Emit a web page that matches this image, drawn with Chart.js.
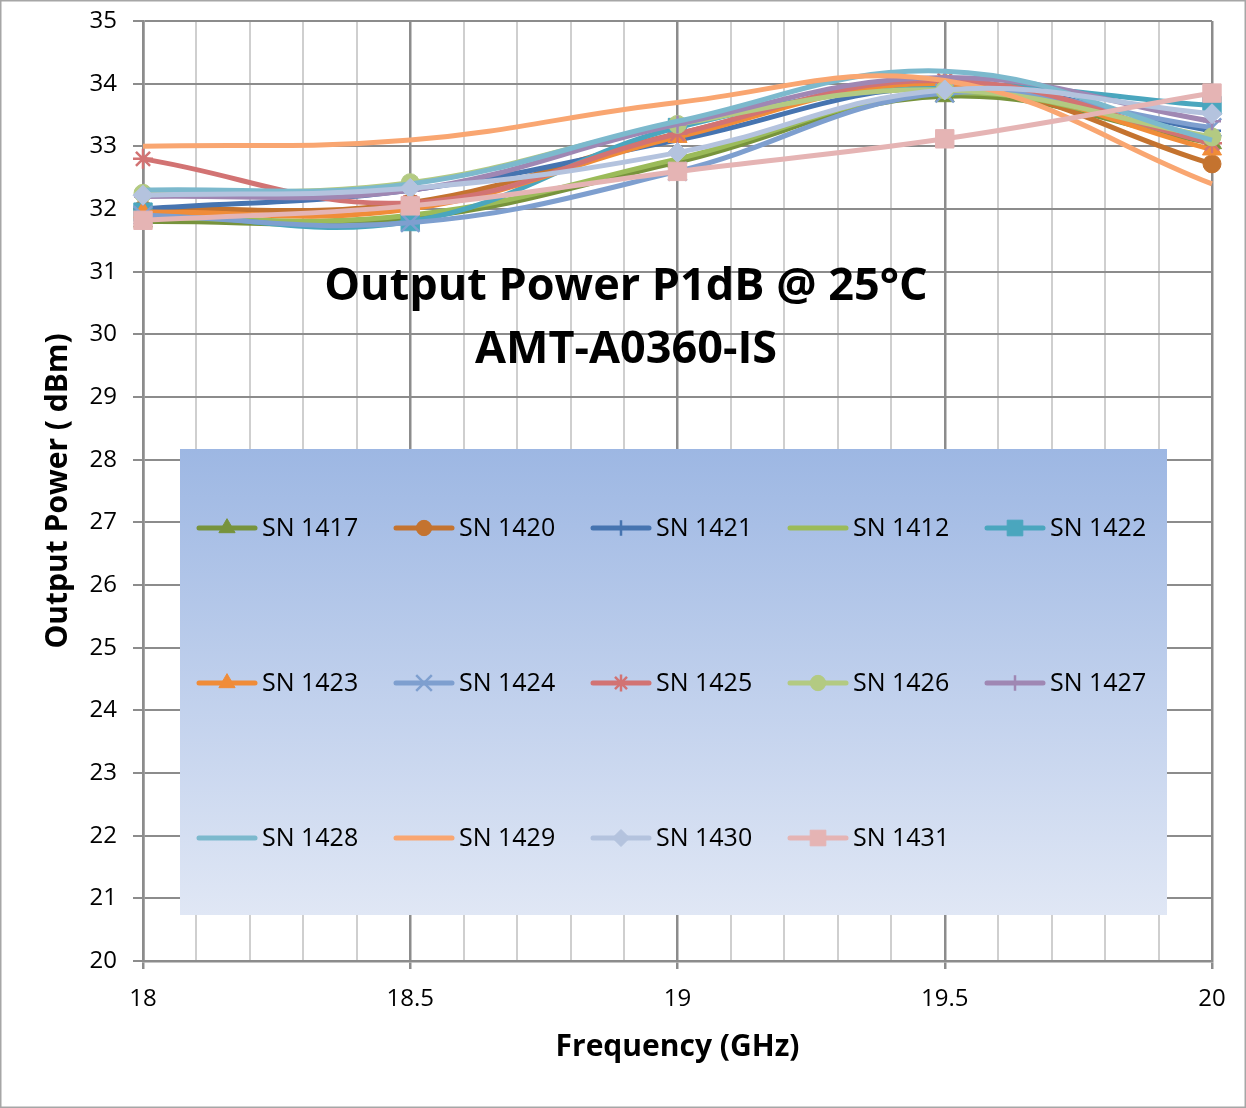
<!DOCTYPE html>
<html>
<head>
<meta charset="utf-8">
<script src="https://cdn.jsdelivr.net/npm/chart.js@4.4.1/dist/chart.umd.min.js"></script>
<style>
  html, body { margin: 0; padding: 0; background: #fff; }
  #wrap { width: 1246px; height: 1108px; position: relative; }
</style>
</head>
<body>
<div id="wrap"><canvas id="c" width="1246" height="1108"></canvas></div>
<script>
// ---- Data ----
const freqs = [18, 18.5, 19, 19.5, 20];
const xTickLabels = ['18', '18.5', '19', '19.5', '20'];
const seriesNames = ['SN 1417','SN 1420','SN 1421','SN 1412','SN 1422','SN 1423','SN 1424',
                     'SN 1425','SN 1426','SN 1427','SN 1428','SN 1429','SN 1430','SN 1431'];
const sn1417 = [31.80, 31.85, 32.75, 33.80, 33.05];
const sn1420 = [32.00, 32.10, 33.20, 34.00, 32.72];
const sn1421 = [32.00, 32.30, 33.10, 33.95, 33.25];
const sn1412 = [31.85, 31.90, 32.80, 33.85, 33.10];
const sn1422 = [31.95, 31.80, 33.30, 33.95, 33.65];
const sn1423 = [31.95, 32.00, 33.15, 34.00, 32.95];
const sn1424 = [31.90, 31.78, 32.60, 33.85, 33.30];
const sn1425 = [32.80, 32.10, 33.20, 34.05, 33.05];
const sn1426 = [32.25, 32.42, 33.35, 33.90, 33.15];
const sn1427 = [32.20, 32.30, 33.35, 34.10, 33.40];
const sn1428 = [32.30, 32.40, 33.40, 34.20, 33.10];
const sn1429 = [33.00, 33.10, 33.70, 34.05, 32.40];
const sn1430 = [32.22, 32.33, 32.90, 33.90, 33.52];
const sn1431 = [31.82, 32.05, 32.60, 33.12, 33.85];
const seriesValues = [sn1417, sn1420, sn1421, sn1412, sn1422, sn1423, sn1424,
                      sn1425, sn1426, sn1427, sn1428, sn1429, sn1430, sn1431];

// ---- Styles ----
const colors = ['#77933C','#C4732F','#4674B0','#9BBB59','#4AA6BE','#F08C38','#7E9FCF',
                '#D27373','#B3CA82','#9F87B3','#7CB9CD','#F9A671','#B4C3DE','#E5B4B4'];
const markers = ['triangle','circle','cross',false,'rect','triangle','crossRot',
                 'star','circle','cross',false,false,'rectRot','rect'];
const markerRadius = {triangle: 11, circle: 9, cross: 9, rect: 13, crossRot: 13, star: 10, rectRot: 10};
const FONT = "'Open Sans', 'DejaVu Sans', sans-serif";

const N = seriesNames.length;
const datasets = seriesNames.map((name, i) => {
  const ps = markers[i];
  const thin = ps === 'cross' || ps === 'crossRot' || ps === 'star';
  return {
    label: name,
    data: freqs.map((f, k) => ({x: f, y: seriesValues[i][k]})),
    borderColor: colors[i],
    backgroundColor: colors[i],
    borderWidth: 5,
    tension: 0.4,
    pointStyle: ps || 'circle',
    pointRadius: ps ? markerRadius[ps] : 0,
    pointHoverRadius: ps ? markerRadius[ps] : 0,
    pointBackgroundColor: colors[i],
    pointBorderColor: colors[i],
    pointBorderWidth: thin ? 2.5 : 1,
    clip: false,
    order: N - i
  };
});

// ---- Plugins ----
const bgPlugin = {
  id: 'bg',
  beforeDraw(chart) {
    const ctx = chart.ctx;
    ctx.save();
    ctx.fillStyle = '#ffffff';
    ctx.fillRect(0, 0, chart.width, chart.height);
    ctx.strokeStyle = '#a6a6a6';
    ctx.lineWidth = 1.5;
    ctx.strokeRect(0.75, 0.75, chart.width - 1.5, chart.height - 1.5);
    ctx.restore();
  }
};

const overlayPlugin = {
  id: 'overlay',
  afterDatasetsDraw(chart) {
    const ctx = chart.ctx;
    ctx.save();
    // legend box
    const bx = 180, by = 449, bw = 987, bh = 466;
    const g = ctx.createLinearGradient(0, by, 0, by + bh);
    g.addColorStop(0, '#9DB7E3');
    g.addColorStop(1, '#E0E7F5');
    ctx.fillStyle = g;
    ctx.fillRect(bx, by, bw, bh);
    // legend items
    ctx.font = '25px ' + FONT;
    ctx.textBaseline = 'middle';
    ctx.textAlign = 'left';
    chart.data.datasets.forEach((ds, i) => {
      const col = i % 5, row = Math.floor(i / 5);
      const x0 = bx + 17 + col * 197;
      const y0 = by + 79 + row * 155;
      ctx.strokeStyle = ds.borderColor;
      ctx.lineWidth = 5;
      ctx.lineCap = 'round';
      ctx.beginPath();
      ctx.moveTo(x0 + 2, y0);
      ctx.lineTo(x0 + 58, y0);
      ctx.stroke();
      if (markers[i]) {
        ctx.fillStyle = ds.borderColor;
        ctx.strokeStyle = ds.borderColor;
        ctx.lineWidth = ds.pointBorderWidth;
        ctx.lineCap = 'butt';
        Chart.helpers.drawPoint(ctx, {pointStyle: markers[i], radius: markerRadius[markers[i]] * 0.85, rotation: 0, borderWidth: ds.pointBorderWidth}, x0 + 30, y0);
      }
      ctx.fillStyle = '#000';
      ctx.fillText(ds.label, x0 + 65, y0 + 1);
    });
    // title inside plot
    ctx.fillStyle = '#000';
    ctx.textAlign = 'center';
    ctx.font = 'bold 45px ' + FONT;
    ctx.fillText('Output Power P1dB @ 25°C', 626, 287);
    ctx.fillText('AMT-A0360-IS', 626, 350);
    ctx.restore();
  }
};

// ---- Chart ----
function isMajor(v) { return Math.abs(v * 2 - Math.round(v * 2)) < 1e-6; }

new Chart(document.getElementById('c'), {
  type: 'line',
  data: { datasets },
  options: {
    responsive: false,
    animation: false,
    devicePixelRatio: 1,
    layout: { padding: { top: 21, right: 34, left: 0, bottom: 0 } },
    plugins: { legend: { display: false }, tooltip: { enabled: false }, title: { display: false } },
    scales: {
      x: {
        type: 'linear',
        min: 18, max: 20,
        afterBuildTicks(scale) {
          const t = [];
          for (let k = 0; k <= 20; k++) t.push({ value: Math.round((18 + k * 0.1) * 10) / 10 });
          scale.ticks = t;
        },
        afterFit(scale) { scale.height = 147; scale.paddingLeft = 0; scale.paddingRight = 0; },
        ticks: {
          autoSkip: false, maxRotation: 0, padding: 16,
          color: '#000',
          font: { size: 24, family: FONT },
          callback(v) {
            if (!isMajor(v)) return '';
            const idx = freqs.indexOf(Math.round(v * 10) / 10);
            return idx >= 0 ? xTickLabels[idx] : '';
          }
        },
        grid: {
          color: (c) => isMajor(c.tick.value) ? '#8c8c8c' : '#cfcfcf',
          lineWidth: (c) => isMajor(c.tick.value) ? 2.5 : 2,
          tickColor: (c) => isMajor(c.tick.value) ? '#8c8c8c' : 'rgba(0,0,0,0)',
          tickLength: 8
        },
        border: { color: '#8c8c8c', width: 2.5 },
        title: {
          display: true, text: 'Frequency (GHz)', color: '#000',
          font: { size: 30, weight: 'bold', family: FONT },
          padding: { top: 0, bottom: 43 }
        }
      },
      y: {
        min: 20, max: 35,
        afterFit(scale) { scale.width = 143; scale.paddingTop = 0; scale.paddingBottom = 0; },
        ticks: {
          stepSize: 1, padding: 16, color: '#000',
          font: { size: 24, family: FONT }
        },
        grid: { color: '#8c8c8c', lineWidth: 2, tickLength: 10, tickColor: '#8c8c8c' },
        border: { color: '#8c8c8c', width: 2.5 },
        title: {
          display: true, text: 'Output Power ( dBm)', color: '#000',
          font: { size: 30, weight: 'bold', family: FONT },
          padding: { top: 40, bottom: 0 }
        }
      }
    }
  },
  plugins: [bgPlugin, overlayPlugin]
});
</script>
</body>
</html>
